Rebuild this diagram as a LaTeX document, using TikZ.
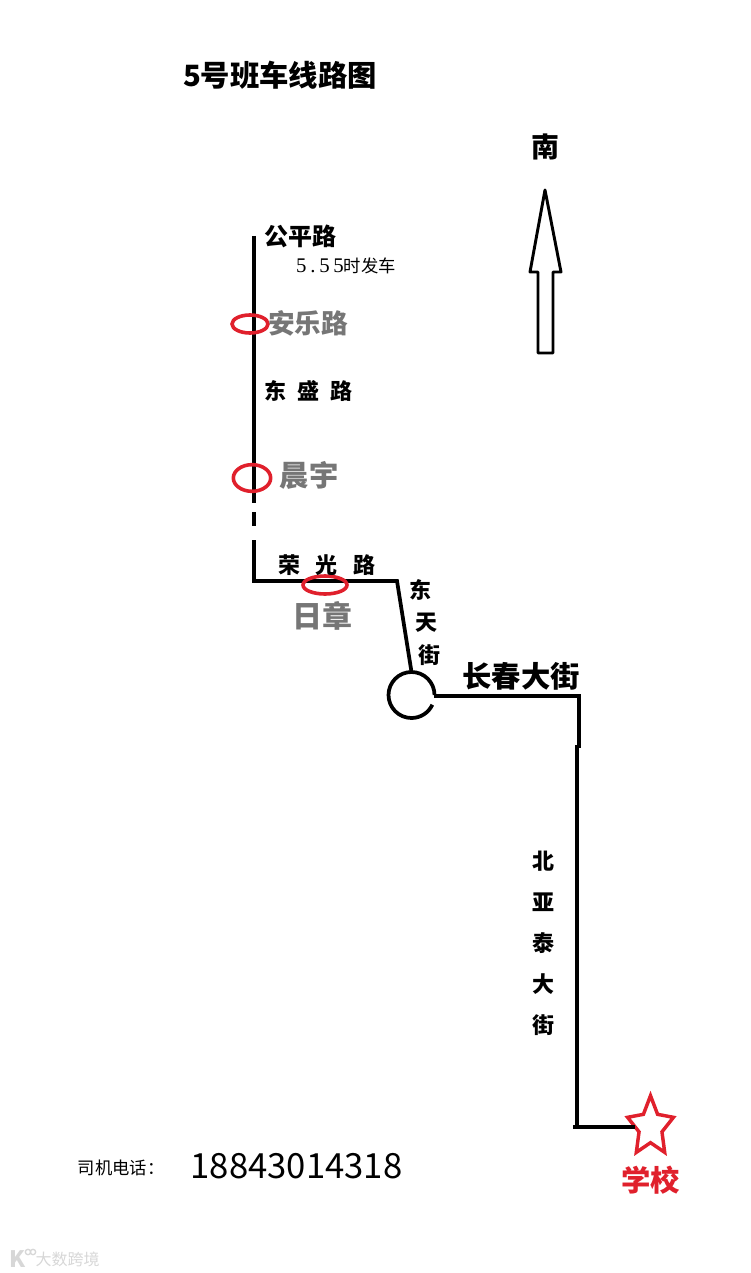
\documentclass[tikz,border=0pt]{standalone}
\usepackage{fontspec}
\usepackage{xcolor}
\usepackage{tikz}
\usetikzlibrary{shapes.geometric, positioning, calc}
\setmainfont{Noto Sans CJK SC}
\newfontfamily\numfont[Scale=1.2, LetterSpace=18]{Liberation Serif}
\definecolor{stopgray}{RGB}{118,118,118}
\definecolor{stopred}{RGB}{224,32,44}
\definecolor{markgray}{RGB}{215,215,215}
\newcommand{\fsize}[1]{\fontsize{#1}{#1}\selectfont}

\begin{document}
\begin{tikzpicture}[
    x=0.75pt, y=-0.75pt,
    every node/.style={inner sep=0pt, outer sep=0pt},
    road/.style={font=\fsize{18}\bfseries, text=black},
    roadsmall/.style={font=\fsize{16.5}\bfseries, text=black},
    stoplabel/.style={font=\fsize{20}\bfseries, text=stopgray},
    stopring/.style={ellipse, draw=stopred, line width=2.7pt, minimum width=#1},
    route/.style={line width=2.8pt, line cap=butt, line join=miter},
    compass/.style={line width=2.2pt, line join=round, draw=black, fill=white}
]
\useasboundingbox (0,0) rectangle (750,1273);

% === TITLE AND COMPASS ===
\node[font=\fsize{22}\bfseries] (title) at (280,75) {5号班车线路图};
\node[font=\fsize{21}\bfseries] (south) at (545,147) {南};
\draw[compass] (545,190) -- (561,272) -- (553,272) -- (553,353) -- (538,353)
    -- (538,272) -- (530,272) -- cycle;

% === ROUTE POINTS ===
\coordinate (start) at (254,236);
\coordinate (gapA) at (254,503);
\coordinate (dashA) at (254,512);
\coordinate (dashB) at (254,526);
\coordinate (gapB) at (254,540);
\coordinate (corner) at (254,581);
\coordinate (bend) at (397,581);
\coordinate (roundabout) at (411.5,695);
\coordinate (roundtop) at (411.5,672);
\coordinate (roundexit) at (434,696);
\coordinate (avenue) at (579,696);
\coordinate (shift) at (579,748);
\coordinate (shiftb) at (577,745);
\coordinate (turn) at (577,1127);
\coordinate (tail) at (573,1127);

% === STOPS AND SCHOOL ===
\node[star, star points=5, star point ratio=2.0, draw=stopred, line width=2.6pt,
    fill=white, minimum size=47pt, xscale=0.77, transform shape] (school) at (650.5,1127) {};

% Route
\draw[route] (start) -- (gapA);
\draw[route] (dashA) -- (dashB);
\draw[route] (gapB) -- (corner) -- (bend) -- (roundtop);
\draw[route] (roundabout) ++(0:23) arc (0:-335:23);
\draw[route] (roundexit) -- (avenue) -- (shift);
\draw[route] (shiftb) -- (turn);
\draw[route] (tail) -- (school.west |- tail);

\node[stopring=27pt, minimum height=13.5pt] (ringanle) at (250,324) {};
\node[stopring=28pt, minimum height=20pt] (ringchenyu) at (252,478) {};
\node[stopring=33pt, minimum height=13.5pt] (ringrizhang) at (325,585) {};

% === LABELS ===
\node[road] (gongping) at (300,236) {公平路};
\node[font=\fsize{13}] (depart) at (346,266) {{\numfont 5.55}时发车};
\node[stoplabel] (anle) at (308,323) {安乐路};
\node[roadsmall] (dongsheng) at (308.5,391) {东\hspace{8pt}盛\hspace{8pt}路};
\node[stoplabel, font=\fsize{22}\bfseries] (chenyu) at (309,475) {晨宇};
\node[roadsmall] (rongguang) at (327,565) {荣\hspace{12pt}光\hspace{12pt}路};
\node[stoplabel, font=\fsize{22.5}\bfseries] (rizhang) at (322,616) {日章};
\node[roadsmall] (dong) at (420,590) {东};
\node[roadsmall] (tian) at (426,623) {天};
\node[roadsmall] (jie) at (429,655) {街};
\node[road, font=\fsize{22}\bfseries] (changchun) at (521,676) {长春大街};
\node[roadsmall, align=center] (beiyatai) at (543,943) {北\\[14.3pt]亚\\[14.3pt]泰\\[14.3pt]大\\[14.3pt]街};
\node[font=\fsize{22}\bfseries, text=stopred] (schoolname) at (650.5,1180) {学校};

% === DRIVER PHONE ===
\node[font=\fsize{13}] (driver) at (121,1168) {司机电话：};
\node[font=\fsize{26}] (phone) at (296.5,1166) {18843014318};

% === WATERMARK ===
\node[font=\fsize{17}\bfseries, text=markgray] (marklogo) at (18,1259) {K};
\node[circle, draw=markgray, line width=1pt, minimum size=4pt] (markdotA) at (28,1252) {};
\node[circle, draw=markgray, line width=1pt, minimum size=4pt] (markdotB) at (33,1252) {};
\node[font=\fsize{12}, text=markgray] (markname) at (67.5,1259) {大数跨境};

\end{tikzpicture}
\end{document}
